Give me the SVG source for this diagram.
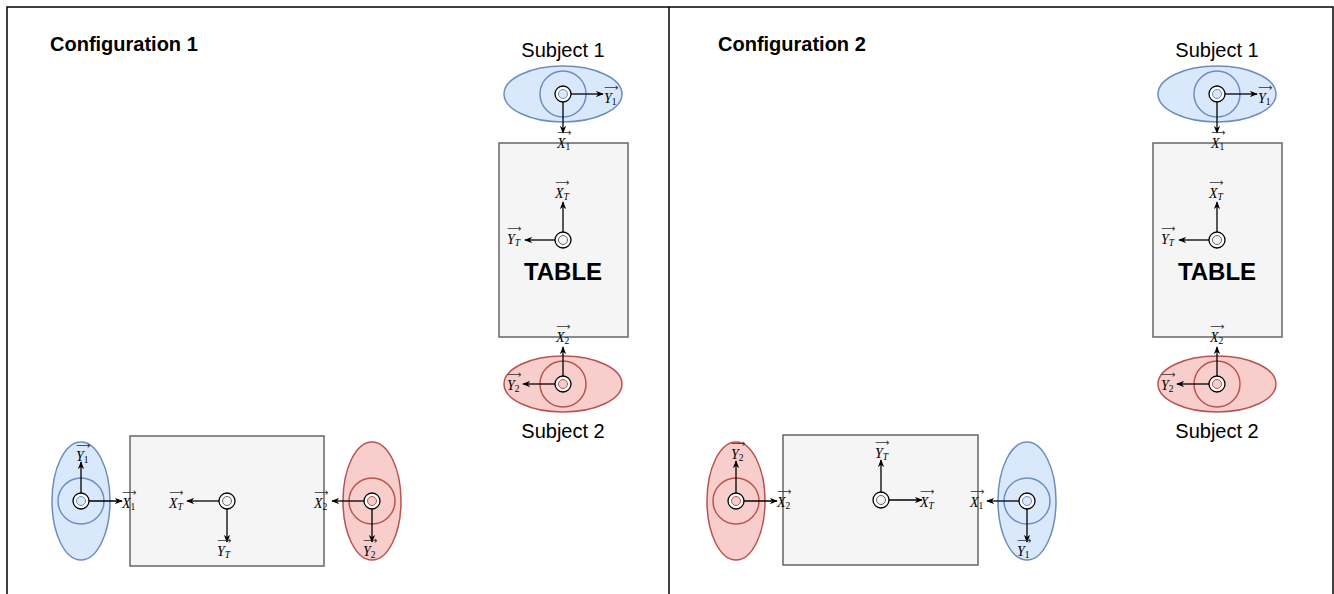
<svg xmlns="http://www.w3.org/2000/svg" width="1334" height="594" viewBox="0 0 1334 594">
<style>
.frame{fill:none;stroke:#000;stroke-width:1.5}
.title{font-family:"Liberation Sans",Arial,sans-serif;font-weight:bold;font-size:20px;fill:#000}
.subj{font-family:"Liberation Sans",Arial,sans-serif;font-size:20px;text-anchor:middle;fill:#000}
.big{font-family:"Liberation Sans",Arial,sans-serif;font-weight:bold;font-size:24px;text-anchor:middle;fill:#000}
.tbl{fill:#f5f5f5;stroke:#666;stroke-width:1.5}
.blue{fill:#dae8fc;stroke:#6c8ebf;stroke-width:1.5}
.red{fill:#f8cecc;stroke:#b85450;stroke-width:1.5}
.bring{fill:none;stroke:#6c8ebf;stroke-width:1.5}
.rring{fill:none;stroke:#b85450;stroke-width:1.5}
.tgt{fill:#fff;stroke:#000;stroke-width:1.3}
.tin{fill:#f5f5f5;stroke:#666;stroke-width:1}
.bin{fill:#dae8fc;stroke:#6c8ebf;stroke-width:1}
.rin{fill:#f8cecc;stroke:#b85450;stroke-width:1}
.ax{stroke:#000;stroke-width:1.3;fill:none;marker-end:url(#ah)}
.m{font-family:"Liberation Serif","Times New Roman",serif;font-style:italic;font-size:14px;fill:#000}
.s{font-size:9.5px}
.n{font-style:normal}
.ov{font-family:"DejaVu Sans",sans-serif;font-style:normal;font-size:10px;fill:#333}
</style>
<defs>
<marker id="ah" viewBox="0 0 10 8" refX="9" refY="4" markerWidth="8" markerHeight="6.4" markerUnits="userSpaceOnUse" orient="auto">
<path d="M0,0 L10,4 L0,8 L3,4 z" fill="#000"/>
</marker>
</defs>

<g id="frames">
<rect class="frame" x="7" y="7" width="1326" height="600"/>
<line class="frame" x1="669" y1="7" x2="669" y2="594"/>
</g>

<g id="titles">
<text class="title" x="50" y="51">Configuration 1</text>
<text class="title" x="718" y="51">Configuration 2</text>
</g>

<!-- Configuration 1, top -->
<g id="c1-subject1">
<text class="subj" x="563" y="57">Subject 1</text>
<ellipse class="blue" cx="563" cy="94" rx="59" ry="28"/>
<circle class="bring" cx="563" cy="94" r="23"/>
<circle class="tgt" cx="563" cy="94" r="8"/>
<circle class="bin" cx="563" cy="94" r="4.5"/>
</g>
<g id="c1-table">
<rect class="tbl" x="499" y="143" width="129" height="194"/>
<circle class="tgt" cx="563" cy="240" r="8"/>
<circle class="tin" cx="563" cy="240" r="4.5"/>
<text class="big" x="563" y="280">TABLE</text>
</g>
<g id="c1-subject2">
<ellipse class="red" cx="563" cy="384" rx="59" ry="28"/>
<circle class="rring" cx="563" cy="384" r="23"/>
<circle class="tgt" cx="563" cy="384" r="8"/>
<circle class="rin" cx="563" cy="384" r="4.5"/>
<text class="subj" x="563" y="438">Subject 2</text>
</g>

<!-- Configuration 1, bottom -->
<g id="c1b-subject1">
<ellipse class="blue" cx="81" cy="501" rx="29" ry="59"/>
<circle class="bring" cx="81" cy="501" r="23"/>
<circle class="tgt" cx="81" cy="501" r="8"/>
<circle class="bin" cx="81" cy="501" r="4.5"/>
</g>
<g id="c1b-table">
<rect class="tbl" x="130" y="436" width="194" height="130"/>
<circle class="tgt" cx="227" cy="501" r="8"/>
<circle class="tin" cx="227" cy="501" r="4.5"/>
</g>
<g id="c1b-subject2">
<ellipse class="red" cx="372" cy="501" rx="29" ry="59"/>
<circle class="rring" cx="372" cy="501" r="23"/>
<circle class="tgt" cx="372" cy="501" r="8"/>
<circle class="rin" cx="372" cy="501" r="4.5"/>
</g>

<!-- Configuration 2, top -->
<g id="c2-subject1">
<text class="subj" x="1217" y="57">Subject 1</text>
<ellipse class="blue" cx="1217" cy="94" rx="59" ry="28"/>
<circle class="bring" cx="1217" cy="94" r="23"/>
<circle class="tgt" cx="1217" cy="94" r="8"/>
<circle class="bin" cx="1217" cy="94" r="4.5"/>
</g>
<g id="c2-table">
<rect class="tbl" x="1153" y="143" width="129" height="194"/>
<circle class="tgt" cx="1217" cy="240" r="8"/>
<circle class="tin" cx="1217" cy="240" r="4.5"/>
<text class="big" x="1217" y="280">TABLE</text>
</g>
<g id="c2-subject2">
<ellipse class="red" cx="1217" cy="384" rx="59" ry="28"/>
<circle class="rring" cx="1217" cy="384" r="23"/>
<circle class="tgt" cx="1217" cy="384" r="8"/>
<circle class="rin" cx="1217" cy="384" r="4.5"/>
<text class="subj" x="1217" y="438">Subject 2</text>
</g>

<!-- Configuration 2, bottom -->
<g id="c2b-subject2">
<ellipse class="red" cx="736" cy="501" rx="29" ry="59"/>
<circle class="rring" cx="736" cy="501" r="23"/>
<circle class="tgt" cx="736" cy="501" r="8"/>
<circle class="rin" cx="736" cy="501" r="4.5"/>
</g>
<g id="c2b-table">
<rect class="tbl" x="783" y="435" width="195" height="130"/>
<circle class="tgt" cx="881" cy="500" r="8"/>
<circle class="tin" cx="881" cy="500" r="4.5"/>
</g>
<g id="c2b-subject1">
<ellipse class="blue" cx="1027" cy="501" rx="29" ry="59"/>
<circle class="bring" cx="1027" cy="501" r="23"/>
<circle class="tgt" cx="1027" cy="501" r="8"/>
<circle class="bin" cx="1027" cy="501" r="4.5"/>
</g>

<g id="connectors">
<!-- C1 top -->
<line class="ax" x1="571" y1="94" x2="603" y2="94"/>
<line class="ax" x1="563" y1="102" x2="563" y2="133"/>
<line class="ax" x1="563" y1="232" x2="563" y2="202"/>
<line class="ax" x1="555" y1="240" x2="525" y2="240"/>
<line class="ax" x1="563" y1="376" x2="563" y2="347"/>
<line class="ax" x1="555" y1="384" x2="523" y2="384"/>
<!-- C1 bottom -->
<line class="ax" x1="81" y1="493" x2="81" y2="462"/>
<line class="ax" x1="89" y1="501" x2="122" y2="501"/>
<line class="ax" x1="219" y1="501" x2="187" y2="501"/>
<line class="ax" x1="227" y1="509" x2="227" y2="542"/>
<line class="ax" x1="364" y1="501" x2="332" y2="501"/>
<line class="ax" x1="372" y1="509" x2="372" y2="542"/>
<!-- C2 top -->
<line class="ax" x1="1225" y1="94" x2="1257" y2="94"/>
<line class="ax" x1="1217" y1="102" x2="1217" y2="133"/>
<line class="ax" x1="1217" y1="232" x2="1217" y2="202"/>
<line class="ax" x1="1209" y1="240" x2="1179" y2="240"/>
<line class="ax" x1="1217" y1="376" x2="1217" y2="347"/>
<line class="ax" x1="1209" y1="384" x2="1177" y2="384"/>
<!-- C2 bottom -->
<line class="ax" x1="736" y1="493" x2="736" y2="461"/>
<line class="ax" x1="744" y1="501" x2="777" y2="501"/>
<line class="ax" x1="881" y1="492" x2="881" y2="460"/>
<line class="ax" x1="889" y1="500" x2="922" y2="500"/>
<line class="ax" x1="1019" y1="501" x2="987" y2="501"/>
<line class="ax" x1="1027" y1="509" x2="1027" y2="542"/>
</g>

<g id="labels">
<!-- C1 top -->
<text class="m" x="604" y="103">Y<tspan class="s n" dy="2">1</tspan><tspan class="ov" x="604" y="91">⟶</tspan></text>
<text class="m" x="557" y="148">X<tspan class="s n" dy="2">1</tspan><tspan class="ov" x="557" y="136">⟶</tspan></text>
<text class="m" x="555" y="198">X<tspan class="s" dy="2">T</tspan><tspan class="ov" x="555" y="186">⟶</tspan></text>
<text class="m" x="507" y="244">Y<tspan class="s" dy="2">T</tspan><tspan class="ov" x="507" y="232">⟶</tspan></text>
<text class="m" x="556" y="342">X<tspan class="s n" dy="2">2</tspan><tspan class="ov" x="556" y="330">⟶</tspan></text>
<text class="m" x="507" y="390">Y<tspan class="s n" dy="2">2</tspan><tspan class="ov" x="507" y="378">⟶</tspan></text>
<!-- C1 bottom -->
<text class="m" x="76" y="461">Y<tspan class="s n" dy="2">1</tspan><tspan class="ov" x="76" y="449">⟶</tspan></text>
<text class="m" x="122" y="508">X<tspan class="s n" dy="2">1</tspan><tspan class="ov" x="122" y="496">⟶</tspan></text>
<text class="m" x="169" y="508">X<tspan class="s" dy="2">T</tspan><tspan class="ov" x="169" y="496">⟶</tspan></text>
<text class="m" x="217" y="556">Y<tspan class="s" dy="2">T</tspan><tspan class="ov" x="217" y="544">⟶</tspan></text>
<text class="m" x="314" y="508">X<tspan class="s n" dy="2">2</tspan><tspan class="ov" x="314" y="496">⟶</tspan></text>
<text class="m" x="363" y="556">Y<tspan class="s n" dy="2">2</tspan><tspan class="ov" x="363" y="544">⟶</tspan></text>
<!-- C2 top -->
<text class="m" x="1258" y="103">Y<tspan class="s n" dy="2">1</tspan><tspan class="ov" x="1258" y="91">⟶</tspan></text>
<text class="m" x="1211" y="148">X<tspan class="s n" dy="2">1</tspan><tspan class="ov" x="1211" y="136">⟶</tspan></text>
<text class="m" x="1209" y="198">X<tspan class="s" dy="2">T</tspan><tspan class="ov" x="1209" y="186">⟶</tspan></text>
<text class="m" x="1161" y="244">Y<tspan class="s" dy="2">T</tspan><tspan class="ov" x="1161" y="232">⟶</tspan></text>
<text class="m" x="1210" y="342">X<tspan class="s n" dy="2">2</tspan><tspan class="ov" x="1210" y="330">⟶</tspan></text>
<text class="m" x="1161" y="390">Y<tspan class="s n" dy="2">2</tspan><tspan class="ov" x="1161" y="378">⟶</tspan></text>
<!-- C2 bottom -->
<text class="m" x="731" y="459">Y<tspan class="s n" dy="2">2</tspan><tspan class="ov" x="731" y="447">⟶</tspan></text>
<text class="m" x="777" y="507">X<tspan class="s n" dy="2">2</tspan><tspan class="ov" x="777" y="495">⟶</tspan></text>
<text class="m" x="875" y="458">Y<tspan class="s" dy="2">T</tspan><tspan class="ov" x="875" y="446">⟶</tspan></text>
<text class="m" x="920" y="507">X<tspan class="s" dy="2">T</tspan><tspan class="ov" x="920" y="495">⟶</tspan></text>
<text class="m" x="970" y="507">X<tspan class="s n" dy="2">1</tspan><tspan class="ov" x="970" y="495">⟶</tspan></text>
<text class="m" x="1017" y="556">Y<tspan class="s n" dy="2">1</tspan><tspan class="ov" x="1017" y="544">⟶</tspan></text>
</g>
</svg>
